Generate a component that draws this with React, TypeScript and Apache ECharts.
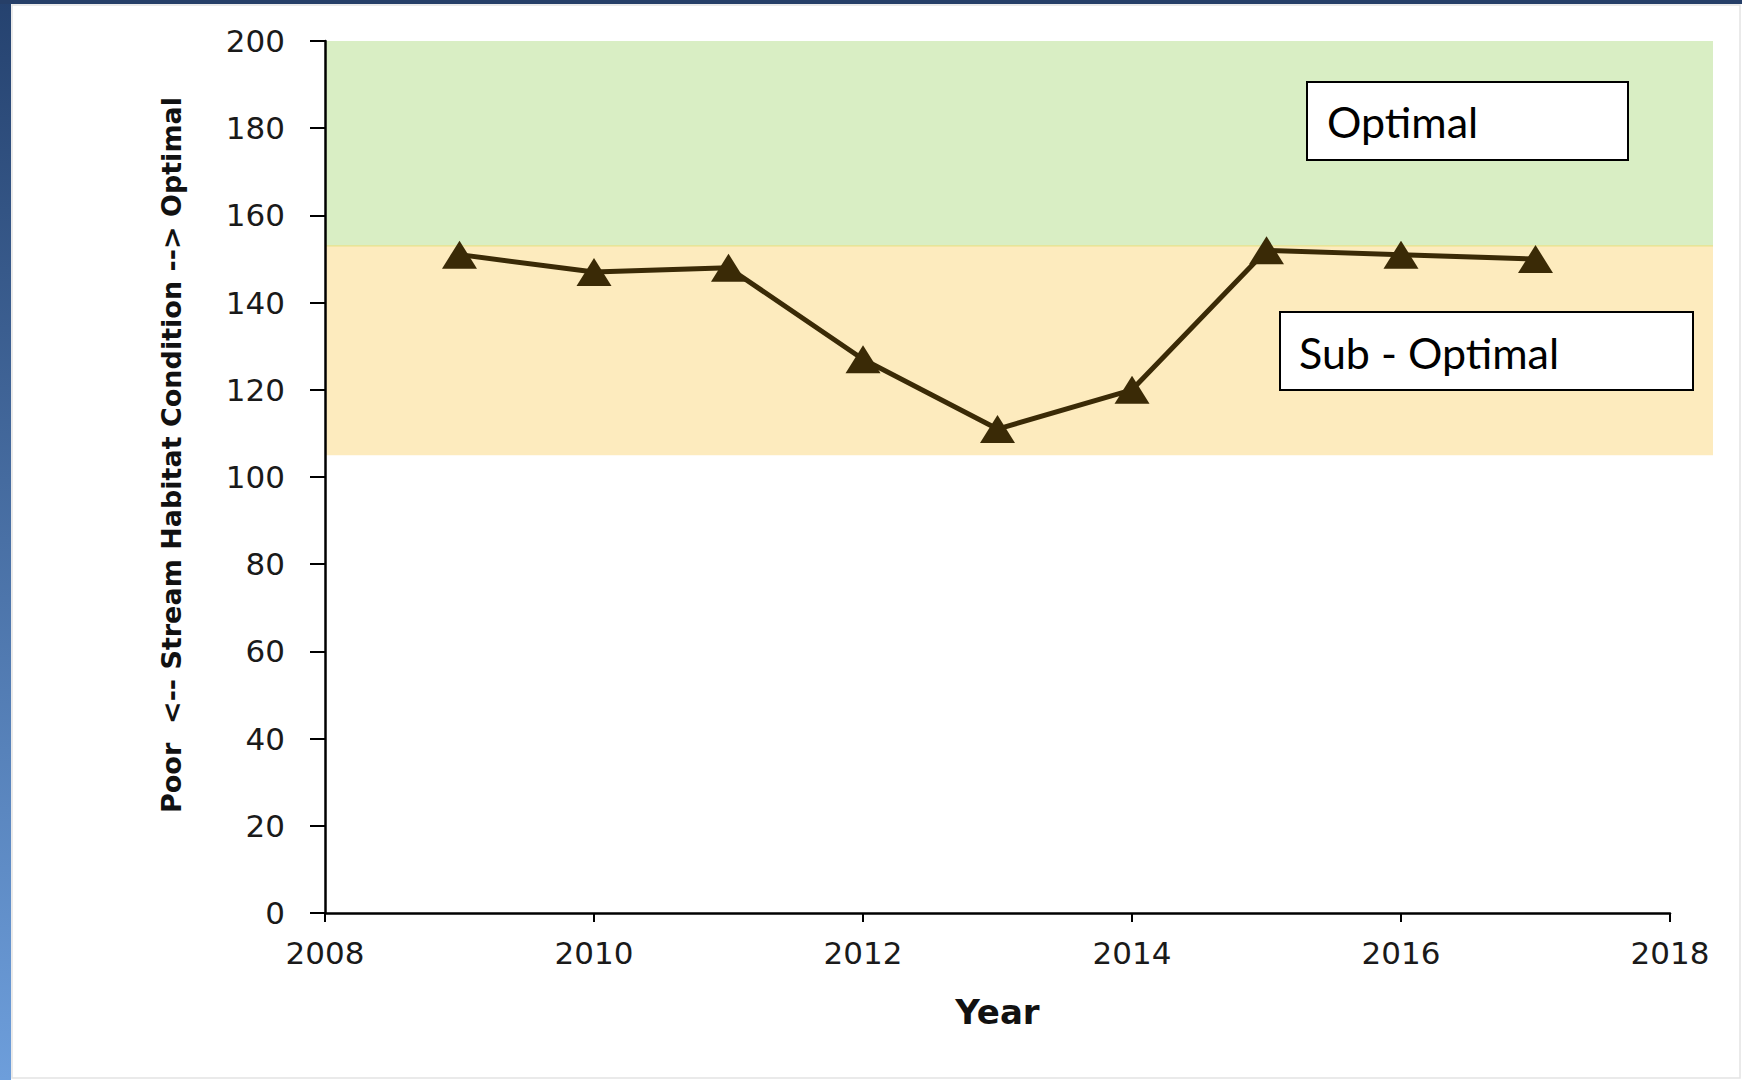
import React, { useEffect, useRef } from "react";
import * as echarts from "echarts";

// Stream habitat condition score by survey year
const years = [2009, 2010, 2011, 2012, 2013, 2014, 2015, 2016, 2017];
const habitatScores = [151, 147, 148, 127, 111, 120, 152, 151, 150];

// Condition bands (score ranges)
const optimalBand = [153, 200];
const subOptimalBand = [105, 153];

const yTicks = { min: 0, max: 200, interval: 20 };
const xTicks = { min: 2008, max: 2018, interval: 2 };

const W = 1742;
const H = 1080;

export default function App() {
  const ref = useRef<HTMLDivElement>(null);

  useEffect(() => {
    if (!ref.current) return;
    const chart = echarts.init(ref.current, undefined, { renderer: "svg" });

    const seriesData = years.map((y, i) => [y, habitatScores[i]]);
    const labelFont = { fontFamily: "DejaVu Sans", fontSize: 31, color: "#1a1a1a" };

    chart.setOption({
      animation: false,
      backgroundColor: "#ffffff",
      grid: [
        // main plot
        { left: 325, right: W - 1670, top: 41, bottom: H - 913 },
        // band backdrop, runs a little past the last year tick
        { left: 325, right: W - 1713, top: 41, bottom: H - 913 },
      ],
      xAxis: [
        {
          type: "value",
          gridIndex: 0,
          min: xTicks.min,
          max: xTicks.max,
          interval: xTicks.interval,
          z: 10,
          name: "Year",
          nameLocation: "middle",
          nameGap: 82,
          nameTextStyle: {
            fontFamily: "DejaVu Sans",
            fontWeight: "bold",
            fontSize: 34,
            color: "#111",
          },
          axisLine: { show: true, onZero: false, lineStyle: { color: "#000", width: 2.5 } },
          axisTick: { show: true, inside: false, length: 9, lineStyle: { color: "#000", width: 2 } },
          axisLabel: { margin: 24, ...labelFont, formatter: (v: number) => String(v) },
          splitLine: { show: false },
        },
        { type: "value", gridIndex: 1, min: 0, max: 1, show: false },
      ],
      yAxis: [
        {
          type: "value",
          gridIndex: 0,
          min: yTicks.min,
          max: yTicks.max,
          interval: yTicks.interval,
          z: 10,
          name: "Poor  <-- Stream Habitat Condition --> Optimal",
          nameLocation: "middle",
          nameGap: 140,
          nameRotate: 90,
          nameTextStyle: {
            fontFamily: "DejaVu Sans",
            fontWeight: "bold",
            fontSize: 27,
            color: "#111",
            padding: [0, 0, 0, 44],
          },
          axisLine: { show: true, lineStyle: { color: "#000", width: 2.5 } },
          axisTick: { show: true, inside: false, length: 15, lineStyle: { color: "#000", width: 2 } },
          axisLabel: { margin: 40, ...labelFont },
          splitLine: { show: false },
        },
        {
          type: "value",
          gridIndex: 1,
          min: yTicks.min,
          max: yTicks.max,
          show: false,
        },
      ],
      series: [
        {
          type: "line",
          xAxisIndex: 1,
          yAxisIndex: 1,
          data: [],
          z: 0,
          silent: true,
          markArea: {
            silent: true,
            z: 0,
            data: [
              [
                { yAxis: optimalBand[0], itemStyle: { color: "#d9eec4" } },
                { yAxis: optimalBand[1] },
              ],
              [
                { yAxis: subOptimalBand[0], itemStyle: { color: "#fdebbe" } },
                { yAxis: subOptimalBand[1] },
              ],
              [
                { yAxis: optimalBand[0] - 0.15, itemStyle: { color: "#e9e28c" } },
                { yAxis: optimalBand[0] + 0.15 },
              ],
            ],
          },
        },
        {
          type: "line",
          data: seriesData,
          symbol: "triangle",
          symbolSize: [35, 28],
          lineStyle: { color: "#3a2a06", width: 5 },
          itemStyle: { color: "#3a2a06" },
          z: 5,
        },
      ],
      graphic: [
        // window frame edges
        {
          type: "rect",
          shape: { x: 0, y: 0, width: 11, height: H },
          style: {
            fill: new echarts.graphic.LinearGradient(0, 0, 0, 1, [
              { offset: 0, color: "#25426f" },
              { offset: 1, color: "#6d9edb" },
            ]),
          },
          z: 100,
        },
        {
          type: "rect",
          shape: { x: 0, y: 0, width: W, height: 4 },
          style: { fill: "#263f68" },
          z: 100,
        },
        {
          type: "rect",
          shape: { x: 12, y: 5, width: W - 14, height: H - 7 },
          style: { fill: "none", stroke: "#e4e4e4", lineWidth: 1.5 },
          z: 99,
        },
        // band labels
        {
          type: "rect",
          z: 50,
          shape: { x: 1307, y: 82, width: 321, height: 78 },
          style: { fill: "#ffffff", stroke: "#000", lineWidth: 2 },
        },
        {
          type: "text",
          z: 51,
          x: 1327,
          y: 121,
          style: {
            text: "Optimal",
            fontFamily: "Lato",
            fontSize: 43,
            fill: "#000",
            verticalAlign: "middle",
            align: "left",
          },
        },
        {
          type: "rect",
          z: 50,
          shape: { x: 1280, y: 312, width: 413, height: 78 },
          style: { fill: "#ffffff", stroke: "#000", lineWidth: 2 },
        },
        {
          type: "text",
          z: 51,
          x: 1299,
          y: 352,
          style: {
            text: "Sub - Optimal",
            fontFamily: "Lato",
            fontSize: 43,
            fill: "#000",
            verticalAlign: "middle",
            align: "left",
          },
        },
      ],
    });

    return () => chart.dispose();
  }, []);

  return (
    <div
      ref={ref}
      style={{ position: "fixed", left: 0, top: 0, width: W, height: H }}
    />
  );
}
